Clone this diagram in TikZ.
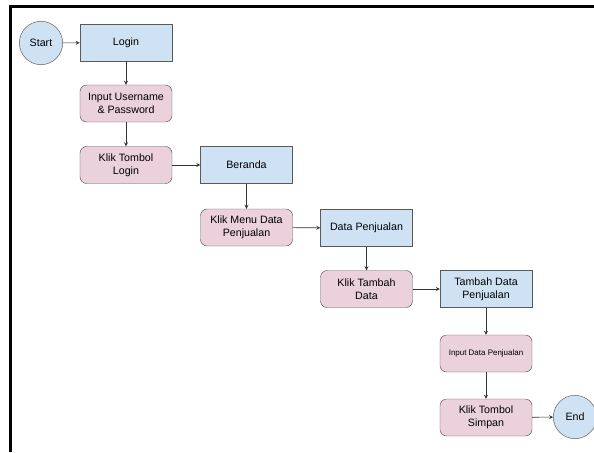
\documentclass[tikz,border=0pt]{standalone}
\usepackage{fontspec}
\setmainfont{Liberation Sans}
\usepackage{tikz}
\definecolor{pageblue}{HTML}{CFE2F3}
\definecolor{actpink}{HTML}{EAD1DC}
\definecolor{edgegray}{HTML}{595959}
\begin{document}
\begin{tikzpicture}[x=0.03cm,y=-0.03cm,>=stealth,
  page/.style={rectangle,draw=edgegray,fill=pageblue,minimum width=2.76cm,minimum height=1.11cm,align=center,font=\fontsize{9.1}{11.2}\selectfont},
  act/.style={rectangle,rounded corners=0.2cm,draw=edgegray,fill=actpink,minimum width=2.76cm,minimum height=1.11cm,align=center,font=\fontsize{9.1}{11.2}\selectfont},
  term/.style={circle,draw=edgegray,fill=pageblue,minimum size=1.3cm,inner sep=0pt,font=\fontsize{9.1}{11.2}\selectfont},
  flow/.style={->,draw=black!80,line width=0.5pt}]
\useasboundingbox (0,0) rectangle (594,452);
\draw[line width=1.8pt] (10.5,452) -- (10.5,6.5) -- (594,6.5);
\node at (41,43) [term] (start) {Start};
\node at (126,42.5) [page] (login) {Login};
\node at (126,103.5) [act] (input) {Input Username\\\& Password};
\node at (126,165) [act] (klik) {Klik Tombol\\Login};
\node at (246.5,165) [page] (beranda) {Beranda};
\node at (246.5,227.5) [act] (menu) {Klik Menu Data\\Penjualan};
\node at (366.5,228) [page] (data) {Data Penjualan};
\node at (366.5,289) [act] (tambah) {Klik Tambah\\Data};
\node at (486,289) [page] (form) {Tambah Data\\Penjualan};
\node at (486,353.5) [act,font=\fontsize{6.8}{8}\selectfont] (isi) {Input Data Penjualan};
\node at (486,417.5) [act] (simpan) {Klik Tombol\\Simpan};
\node at (575,417) [term] (end) {End};
\draw[flow] (start) -- (login);
\draw[flow] (login) -- (input);
\draw[flow] (input) -- (klik);
\draw[flow] (klik) -- (beranda);
\draw[flow] (beranda) -- (menu);
\draw[flow] (menu) -- (data);
\draw[flow] (data) -- (tambah);
\draw[flow] (tambah) -- (form);
\draw[flow] (form) -- (isi);
\draw[flow] (isi) -- (simpan);
\draw[flow] (simpan) -- (end);
\end{tikzpicture}
\end{document}
